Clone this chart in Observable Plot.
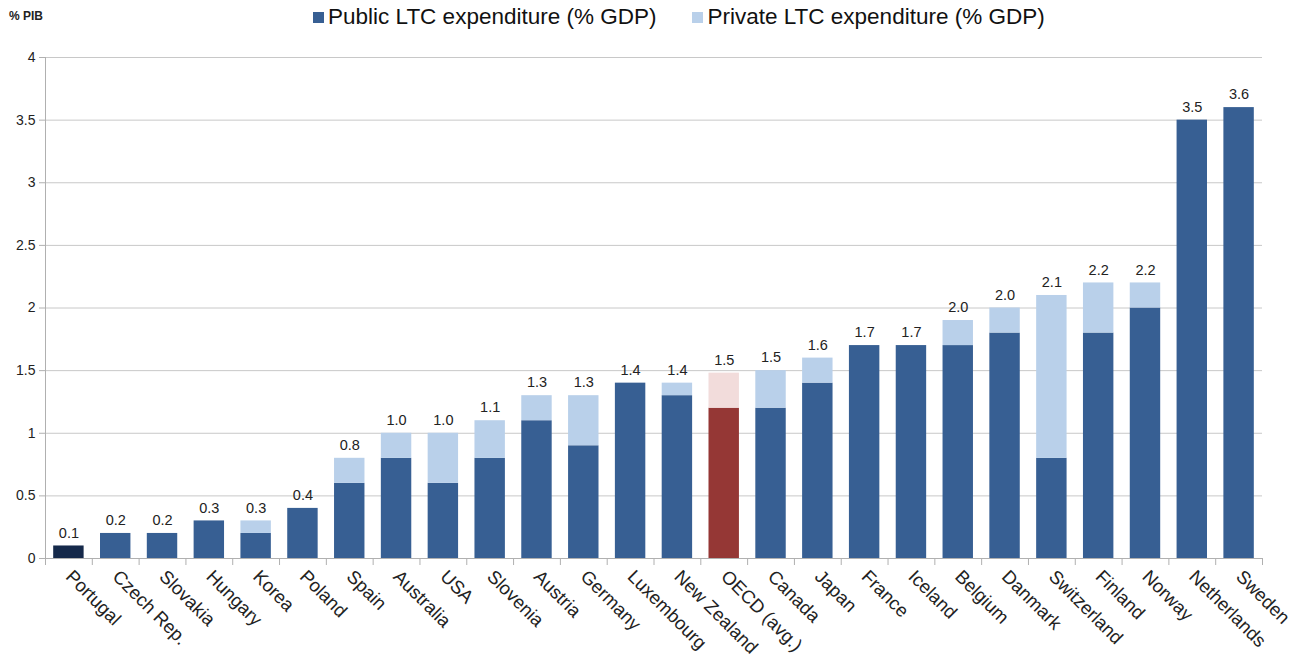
<!DOCTYPE html>
<html>
<head>
<meta charset="utf-8">
<script src="https://cdn.jsdelivr.net/npm/d3@7"></script>
<script src="https://cdn.jsdelivr.net/npm/@observablehq/plot@0.6"></script>
<style>
  html, body { margin: 0; padding: 0; background: #fff; }
  body { width: 1304px; height: 660px; overflow: hidden; font-family: "Liberation Sans", Arial, sans-serif; }
  #top { position: relative; height: 40px; }
  #unit { position: absolute; left: 9px; top: 9px; font-size: 12px; font-weight: bold; color: #222; }
  #legend { position: absolute; left: 313px; top: 4px; white-space: nowrap; font-size: 22.5px; color: #111; }
  .item { display: inline-block; margin-right: 36px; }
  .sw { display: inline-block; width: 11px; height: 11px; margin-right: 4px; vertical-align: 1px; }
</style>
</head>
<body>
<div id="top">
  <div id="unit">% PIB</div>
  <div id="legend"></div>
</div>
<div id="chart"></div>
<script>
const countries = ["Portugal","Czech Rep.","Slovakia","Hungary","Korea","Poland","Spain","Australia","USA","Slovenia","Austria","Germany","Luxembourg","New Zealand","OECD (avg.)","Canada","Japan","France","Iceland","Belgium","Danmark","Switzerland","Finland","Norway","Netherlands","Sweden"];
const publicVals  = [0.1,0.2,0.2,0.3,0.2,0.4,0.6,0.8,0.6,0.8,1.1,0.9,1.4,1.3,1.2,1.2,1.4,1.7,1.7,1.7,1.8,0.8,1.8,2.0,3.5,3.6];
const privateVals = [0,0,0,0,0.1,0,0.2,0.2,0.4,0.3,0.2,0.4,0,0.1,0.28,0.3,0.2,0,0,0.2,0.2,1.3,0.4,0.2,0,0];
const totalLabels = ["0.1","0.2","0.2","0.3","0.3","0.4","0.8","1.0","1.0","1.1","1.3","1.3","1.4","1.4","1.5","1.5","1.6","1.7","1.7","2.0","2.0","2.1","2.2","2.2","3.5","3.6"];
const seriesNames = ["Public LTC expenditure (% GDP)", "Private LTC expenditure (% GDP)"];
const yTicks = [0,0.5,1,1.5,2,2.5,3,3.5,4];

const colors = {public: "#375f93", private: "#b9d0ea", oecdPublic: "#953735", oecdPrivate: "#f2dcdb", highlight: "#15294a"};

function colorFor(country, series) {
  if (country === "OECD (avg.)") return series === "public" ? colors.oecdPublic : colors.oecdPrivate;
  if (country === "Portugal") return colors.highlight;
  return series === "public" ? colors.public : colors.private;
}

const rows = [];
countries.forEach((c, i) => rows.push({country: c, series: "public", value: publicVals[i], color: colorFor(c, "public")}));
countries.forEach((c, i) => rows.push({country: c, series: "private", value: privateVals[i], color: colorFor(c, "private")}));
const totals = countries.map((c, i) => ({country: c, total: publicVals[i] + privateVals[i], label: totalLabels[i]}));

// legend
const legend = document.getElementById("legend");
[[seriesNames[0], colors.public], [seriesNames[1], colors.private]].forEach(([name, col]) => {
  const s = document.createElement("span");
  s.className = "item";
  s.innerHTML = `<span class="sw" style="background:${col}"></span>${name}`;
  legend.appendChild(s);
});

const W = 1304, H = 620, mL = 45, mR = 42;
const step = (W - mL - mR) / countries.length;

const chart = Plot.plot({
  width: W,
  height: H,
  marginLeft: mL,
  marginRight: mR,
  marginTop: 17,
  marginBottom: 102,
  style: {fontFamily: "Liberation Sans, Arial, sans-serif", background: "#fff"},
  x: {domain: countries, paddingInner: 0.35, paddingOuter: 0.175, round: false, label: null},
  y: {domain: [0, 4], label: null},
  marks: [
    Plot.gridY(yTicks, {stroke: "#c8c8c8", strokeOpacity: 1}),
    Plot.barY(rows, {x: "country", y: "value", fill: "color"}),
    Plot.ruleX([countries[0]], {x: d => d, dx: -step / 2, y1: 0, y2: 4, stroke: "#b0b0b0"}),
    Plot.ruleY([0], {stroke: "#b0b0b0"}),
    Plot.axisY(yTicks, {tickFormat: d => String(d), tickSize: 6, tickPadding: 4, fontSize: 14, stroke: "#b0b0b0", color: "#222", label: null}),
    Plot.axisX({tickSize: 7, dx: -step / 2, tickFormat: () => "", stroke: "#b0b0b0", label: null}),
    Plot.ruleX([countries[countries.length - 1]], {x: d => d, dx: step / 2, y: 0, insetBottom: -7, stroke: "#b0b0b0"}),
    Plot.axisX({tickSize: 0, tickRotate: 45, tickPadding: 15, fontSize: 18.5, color: "#222", textAnchor: "start", label: null, style: {letterSpacing: "0.6px"}}),
    Plot.text(totals, {x: "country", y: "total", text: "label", dy: -13, fontSize: 14.5, fill: "#222"})
  ]
});
document.getElementById("chart").appendChild(chart);
</script>
</body>
</html>
